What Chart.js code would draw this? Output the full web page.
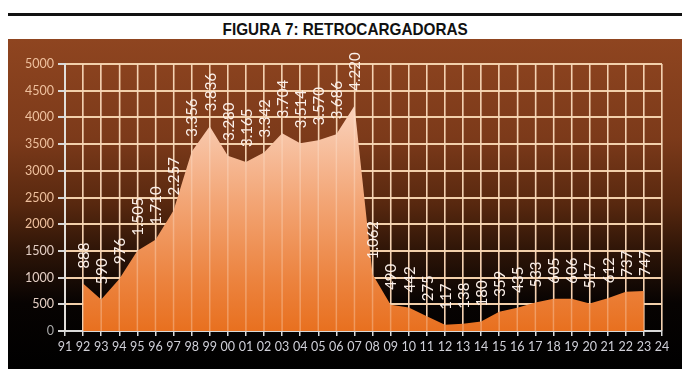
<!DOCTYPE html>
<html>
<head>
<meta charset="utf-8">
<script src="https://cdn.jsdelivr.net/npm/chart.js@4/dist/chart.umd.min.js"></script>
<style>
  html,body{margin:0;padding:0;background:#fff;width:682px;height:382px;overflow:hidden;position:relative;}
  #topline{position:absolute;left:8px;top:13px;width:674px;height:3px;background:#111;}
  #title{position:absolute;left:8px;width:674px;top:20px;text-align:center;font-family:"Liberation Sans Narrow","Arial Narrow","Liberation Sans",sans-serif;font-weight:bold;font-size:17px;color:#111;}
  #title span{display:inline-block;transform:scaleX(0.9);transform-origin:center;}
  #panel{position:absolute;left:8px;top:39px;width:674px;height:330px;
    background:linear-gradient(to bottom,#8f4520 0%,#7c3a1a 30%,#58280f 50%,#2c1407 65%,#070302 80%,#000 100%);}
  #c{position:absolute;left:0;top:0;}
  #pre{position:absolute;left:-1000px;top:0;font-family:Lato;}
</style>
</head>
<body>
<div id="topline"></div>
<div id="title"><span>FIGURA 7: RETROCARGADORAS</span></div>
<div id="panel"></div>
<div id="pre">0123456789.</div>
<canvas id="c" width="682" height="382"></canvas>
<script>
const years = ['91','92','93','94','95','96','97','98','99','00','01','02','03','04','05','06','07','08','09','10','11','12','13','14','15','16','17','18','19','20','21','22','23','24'];
const units = [null,888,590,976,1505,1710,2257,3356,3836,3280,3165,3342,3704,3514,3570,3686,4220,1062,490,442,275,117,138,180,359,435,533,605,606,517,612,737,747,null];
const yTicksMax = 5000;
const yTicksStep = 500;

function fmt(v){ return String(v).replace(/\B(?=(\d{3})+(?!\d))/g,'.'); }

const overlayPlugin = {
  id:'overlay',
  afterDatasetsDraw(chart){
    const ctx = chart.ctx, xs = chart.scales.x, ca = chart.chartArea;
    ctx.save();
    ctx.strokeStyle = 'rgba(255,236,222,0.32)';
    ctx.lineWidth = 1.5;
    for (let i=0;i<xs.ticks.length;i++){
      const x = xs.getPixelForTick(i);
      ctx.beginPath(); ctx.moveTo(x,ca.top); ctx.lineTo(x,ca.bottom); ctx.stroke();
    }
    const meta = chart.getDatasetMeta(0);
    ctx.fillStyle = '#fbf0ea';
    ctx.font = '15px Lato';
    ctx.textAlign = 'left';
    ctx.textBaseline = 'middle';
    meta.data.forEach((pt,i)=>{
      const v = units[i];
      if (v === null) return;
      ctx.save();
      ctx.translate(pt.x, pt.y - 15);
      ctx.rotate(-Math.PI/2);
      ctx.fillText(fmt(v), 0, 1);
      ctx.restore();
    });
    ctx.restore();
  }
};

function draw(){
new Chart(document.getElementById('c'), {
  type:'line',
  data:{
    labels: years,
    datasets:[{
      data: units,
      fill:'origin',
      borderWidth:0,
      borderColor:'rgba(0,0,0,0)',
      pointRadius:0,
      tension:0,
      spanGaps:false,
      backgroundColor(ctx){
        const ch = ctx.chart, ca = ch.chartArea;
        if(!ca) return '#e8742a';
        const g = ch.ctx.createLinearGradient(0,ca.top,0,ca.bottom);
        g.addColorStop(0,'#fcdccd');
        g.addColorStop(0.2,'#f9cdb4');
        g.addColorStop(0.5,'#f3a778');
        g.addColorStop(0.8,'#ec8440');
        g.addColorStop(1,'#e8701f');
        return g;
      }
    }]
  },
  options:{
    responsive:false,
    animation:false,
    devicePixelRatio:1,
    layout:{padding:{left:0,right:20,top:64,bottom:0}},
    plugins:{legend:{display:false},tooltip:{enabled:false},title:{display:false}},
    scales:{
      x:{
        offset:false,
        afterFit(s){ s.height = 51; },
        grid:{color:'#efc6a0',lineWidth:1.5,tickLength:5,tickColor:'#d9d9d9',drawOnChartArea:true},
        border:{color:'#d9d9d9',width:2},
        ticks:{color:'#d0d0d8',font:{family:'Lato',size:12.5},padding:3,maxRotation:0,autoSkip:false}
      },
      y:{
        min:0,max:yTicksMax,
        afterFit(s){ s.width = 65; },
        grid:{color:'#f2cfaa',lineWidth:2,tickLength:7,tickColor:'#d9d9d9'},
        border:{color:'#d9d9d9',width:2},
        ticks:{stepSize:yTicksStep,padding:4,
          color(c){ const v=c.tick.value; return v===0?'#a8a8a8':(v>=2000?'#efc09e':'#e4cfc4'); },
          font:{family:'Lato',size:12.5},
          callback(v){ return String(v); }}
      }
    }
  },
  plugins:[overlayPlugin]
});
}
Promise.all([document.fonts.load('15px Lato'),document.fonts.load('12.5px Lato')]).then(draw, draw);
</script>
</body>
</html>
